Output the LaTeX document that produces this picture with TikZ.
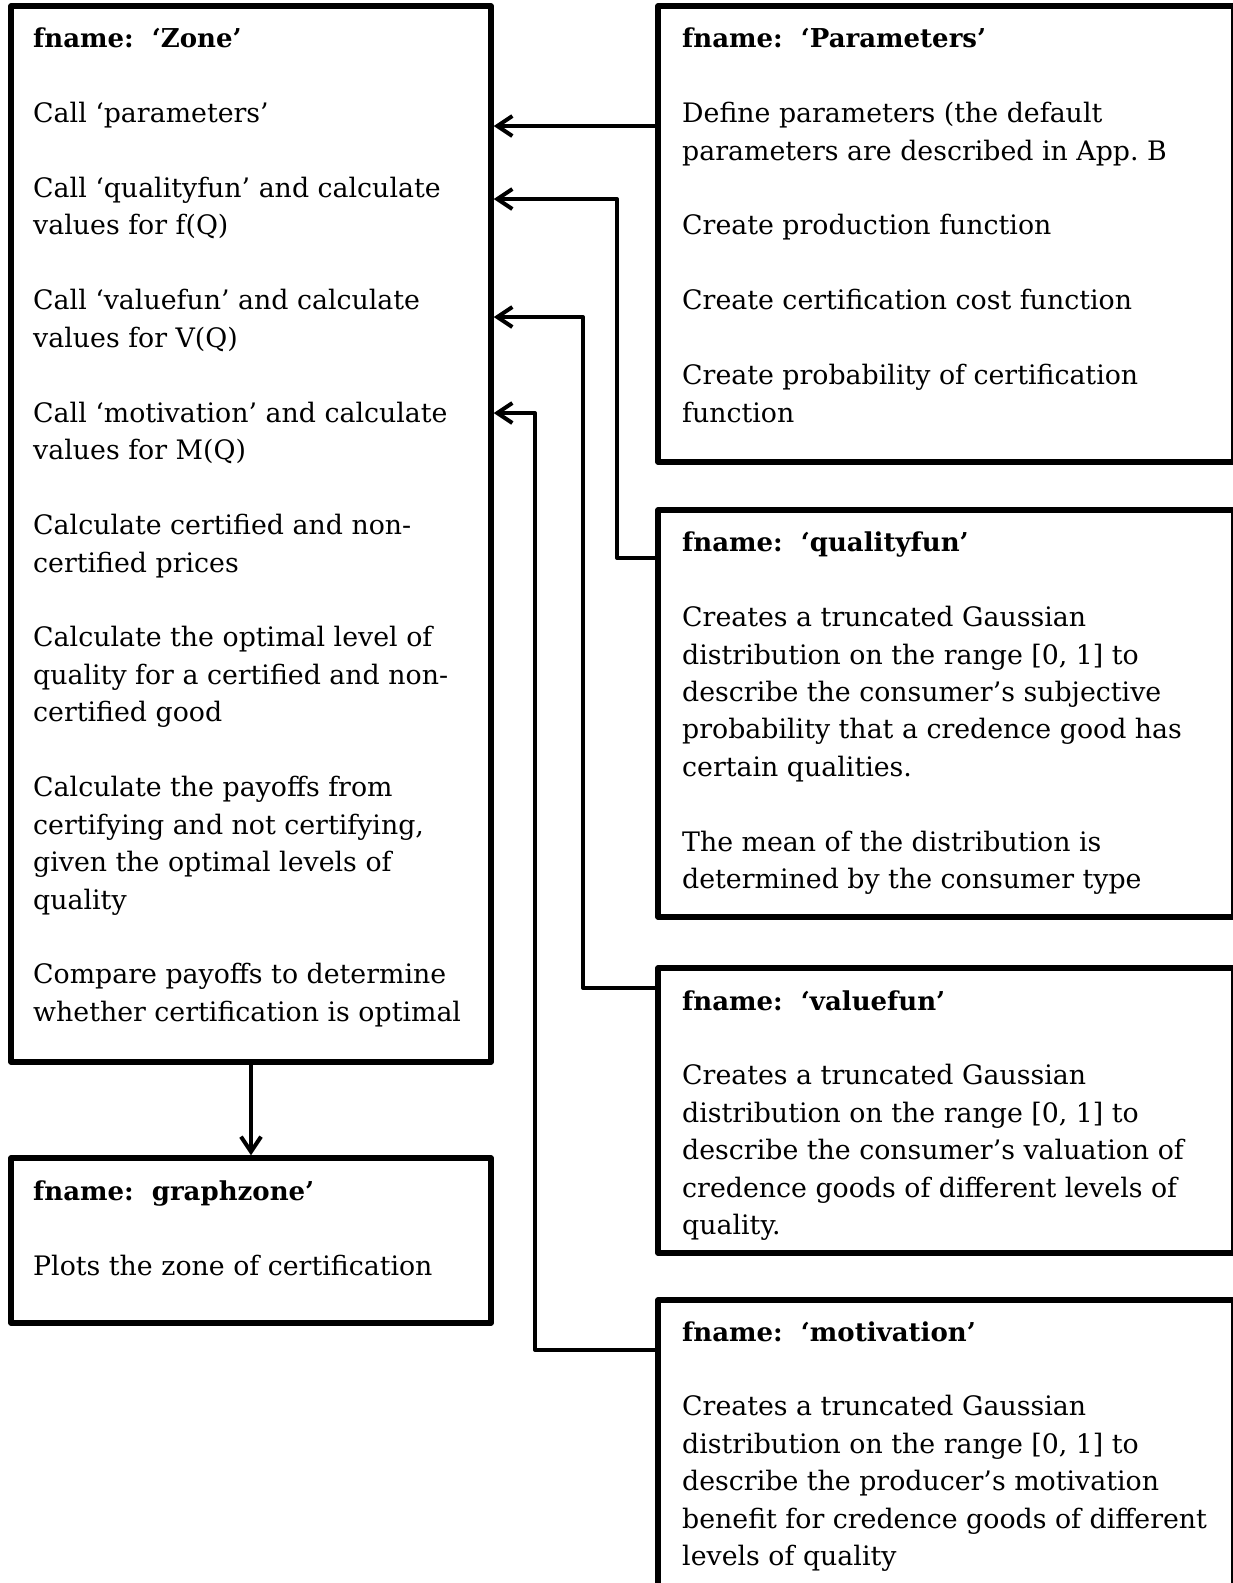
\documentclass[tikz,border=0pt]{standalone}
\usepackage{fontspec}
\setmainfont{DejaVu Serif}
\usetikzlibrary{arrows.meta}
\frenchspacing
\begin{document}
\begin{tikzpicture}[x=1pt,y=-1pt,
  box/.style={draw, line width=5.5pt, line join=round, inner sep=0pt},
  txt/.style={inner sep=0pt, anchor=base west, font=\fontsize{26.8}{31}\selectfont},
  ttl/.style={txt, font=\fontsize{26}{31}\selectfont\bfseries},
  conn/.style={line width=4pt, line join=round, -{Straight Barb[length=15pt,width=20pt]}}]
\useasboundingbox (0,0) rectangle (1233,1583);
% boxes
\node[box, minimum width=480pt, minimum height=1056pt] (zone) at (251,534) {};
\node[box, minimum width=480pt, minimum height=165pt] (graph) at (251,1240.5) {};
\node[box, minimum width=576pt, minimum height=456pt] (params) at (946,234) {};
\node[box, minimum width=576pt, minimum height=407pt] (qf) at (946,713.5) {};
\node[box, minimum width=576pt, minimum height=285pt] (vf) at (946,1110.5) {};
\node[box, minimum width=576pt, minimum height=340pt] (mot) at (946,1470) {};
% titles
\node[ttl] (zone-t) at (33,47.7) {fname:\ \ ‘Zone’};
\node[ttl] (params-t) at (682,47.7) {fname:\ \ ‘Parameters’};
\node[ttl] (qf-t) at (682,551.7) {fname:\ \ ‘qualityfun’};
\node[ttl] (vf-t) at (682,1010) {fname:\ \ ‘valuefun’};
\node[ttl] (mot-t) at (682,1341) {fname:\ \ ‘motivation’};
\node[ttl] (graph-t) at (33,1200) {fname:\ \ graphzone’};
% texts
\foreach \n/\t in {2/{Call ‘parameters’},
  4/{Call ‘qualityfun’ and calculate}, 5/{values for f(Q)},
  7/{Call ‘valuefun’ and calculate}, 8/{values for V(Q)},
  10/{Call ‘motivation’ and calculate}, 11/{values for M(Q)},
  13/{Calculate certified and non-}, 14/{certified prices},
  16/{Calculate the optimal level of}, 17/{quality for a certified and non-}, 18/{certified good},
  20/{Calculate the payoffs from}, 21/{certifying and not certifying,}, 22/{given the optimal levels of}, 23/{quality},
  25/{Compare payoffs to determine}, 26/{whether certification is optimal}}
  \node[txt] (zone-\n) at (33,{47.7+37.45*\n}) {\t};
\foreach \n/\t in {2/{Define parameters (the default}, 3/{parameters are described in App. B},
  5/{Create production function},
  7/{Create certification cost function},
  9/{Create probability of certification}, 10/{function}}
  \node[txt] (params-\n) at (682,{47.7+37.45*\n}) {\t};
\foreach \n/\t in {2/{Creates a truncated Gaussian}, 3/{distribution on the range [0, 1] to},
  4/{describe the consumer’s subjective}, 5/{probability that a credence good has},
  6/{certain qualities.},
  8/{The mean of the distribution is}, 9/{determined by the consumer type}}
  \node[txt] (qf-\n) at (682,{551.7+37.45*\n}) {\t};
\foreach \n/\t in {2/{Creates a truncated Gaussian}, 3/{distribution on the range [0, 1] to},
  4/{describe the consumer’s valuation of}, 5/{credence goods of different levels of},
  6/{quality.}}
  \node[txt] (vf-\n) at (682,{1010+37.45*\n}) {\t};
\foreach \n/\t in {2/{Creates a truncated Gaussian}, 3/{distribution on the range [0, 1] to},
  4/{describe the producer’s motivation}, 5/{benefit for credence goods of different},
  6/{levels of quality}}
  \node[txt] (mot-\n) at (682,{1341+37.45*\n}) {\t};
\node[txt] (graph-2) at (33,1275) {Plots the zone of certification};
% connectors
\draw[conn] (params.west |- 0,126) -- (zone.east |- 0,126);
\draw[conn] (qf.west |- 0,558) -- (617,558) -- (617,199) -- (zone.east |- 0,199);
\draw[conn] (vf.west |- 0,988) -- (583,988) -- (583,317) -- (zone.east |- 0,317);
\draw[conn] (mot.west |- 0,1350) -- (535,1350) -- (535,413) -- (zone.east |- 0,413);
\draw[conn] (zone.south) -- (graph.north);
\end{tikzpicture}
\end{document}
